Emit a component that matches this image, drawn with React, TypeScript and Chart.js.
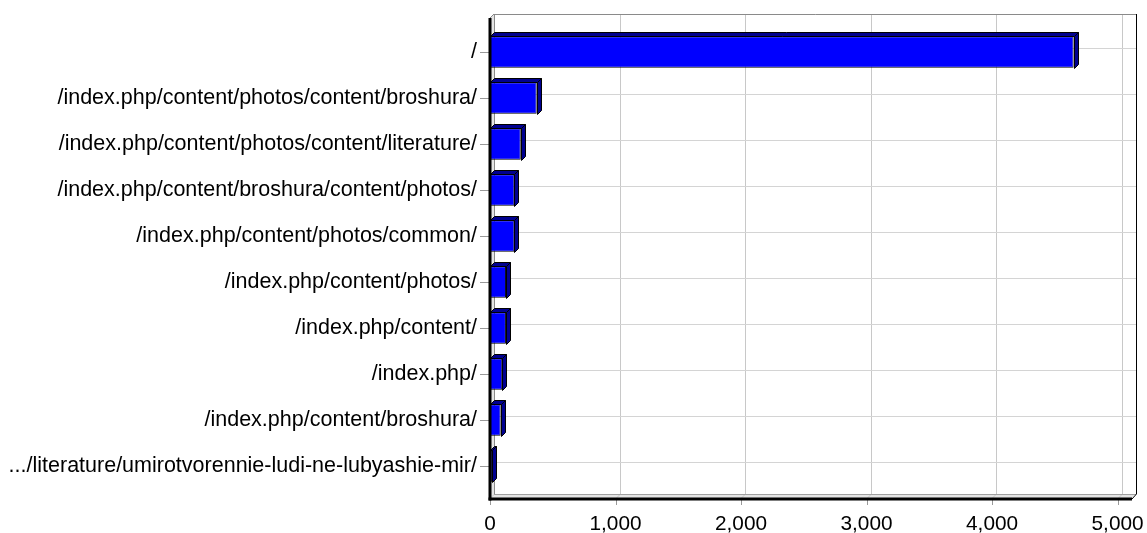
import React, { useEffect, useRef } from 'react';
import { Chart, registerables } from 'chart.js';

Chart.register(...registerables);

const categories = [
  '/',
  '/index.php/content/photos/content/broshura/',
  '/index.php/content/photos/content/literature/',
  '/index.php/content/broshura/content/photos/',
  '/index.php/content/photos/common/',
  '/index.php/content/photos/',
  '/index.php/content/',
  '/index.php/',
  '/index.php/content/broshura/',
  '.../literature/umirotvorennie-ludi-ne-lubyashie-mir/',
];
const hits = [4650, 372, 245, 195, 195, 128, 127, 98, 85, 18];
const xTickValues = [0, 1000, 2000, 3000, 4000, 5000];
const xMax = 5115;

const FAMILY = '"Liberation Sans", Arial, sans-serif';

const threeD = {
  id: 'threeD',
  beforeDatasetsDraw(chart: any) {
    const { ctx, chartArea: a, scales } = chart;
    const x = scales.x;
    const y = scales.y;
    const d = 4;
    const fl = a.left;
    const fr = a.right;
    const ft = a.top - 11;
    const fb = a.bottom + 9;
    const line = (x1: number, y1: number, x2: number, y2: number) => {
      ctx.beginPath();
      ctx.moveTo(x1, y1);
      ctx.lineTo(x2, y2);
      ctx.stroke();
    };
    ctx.save();
    ctx.fillStyle = '#ffffff';
    ctx.fillRect(fl + d, ft - d, fr - fl, fb - ft);
    ctx.fillStyle = '#e4e4e4';
    ctx.beginPath();
    ctx.moveTo(fl, ft);
    ctx.lineTo(fl + d, ft - d);
    ctx.lineTo(fl + d, fb - d);
    ctx.lineTo(fl, fb);
    ctx.closePath();
    ctx.fill();
    ctx.beginPath();
    ctx.moveTo(fl, fb);
    ctx.lineTo(fl + d, fb - d);
    ctx.lineTo(fr + d, fb - d);
    ctx.lineTo(fr, fb);
    ctx.closePath();
    ctx.fill();
    ctx.lineWidth = 1;
    ctx.strokeStyle = '#c8c8c8';
    xTickValues.forEach((v) => {
      const px = Math.round(x.getPixelForValue(v)) + 0.5;
      line(px + d, ft - d, px + d, fb - d);
      line(px + d, fb - d, px, fb);
    });
    ctx.strokeStyle = '#d4d4d4';
    categories.forEach((_, i) => {
      const py = Math.round(y.getPixelForValue(i)) + 0.5;
      line(fl + d, py - d, fr + d, py - d);
      line(fl, py, fl + d, py - d);
    });
    ctx.strokeStyle = '#8a8a8a';
    line(fl + d + 0.5, ft - d + 0.5, fr + d, ft - d + 0.5);
    line(fl + d + 0.5, ft - d, fl + d + 0.5, fb - d);
    line(fl, ft, fl + d, ft - d);
    ctx.strokeStyle = '#a0a0a0';
    line(fl + d, fb - d + 0.5, fr + d, fb - d + 0.5);
    ctx.strokeStyle = '#000000';
    line(fr + d + 0.5, ft - d, fr + d + 0.5, fb - d);
    line(fr + d + 0.5, fb - d, fr, fb + 1);
    ctx.restore();
  },
  afterDatasetsDraw(chart: any) {
    const { ctx, chartArea: a, scales } = chart;
    const x = scales.x;
    const y = scales.y;
    const d = 4;
    const fl = a.left;
    const fr = a.right;
    const ft = a.top - 11;
    const fb = a.bottom + 9;
    ctx.save();
    ctx.lineWidth = 1;
    ctx.strokeStyle = '#000000';
    ctx.fillStyle = '#00008f';
    const meta = chart.getDatasetMeta(0);
    meta.data.forEach((bar: any) => {
      const p = bar.getProps(['x', 'y', 'base', 'height'], true);
      const x0 = Math.round(p.base) + 0.5;
      const x1 = Math.round(p.x) + 0.5;
      const yt = Math.round(p.y - p.height / 2) + 0.5;
      const yb = Math.round(p.y + p.height / 2) + 0.5;
      ctx.beginPath();
      ctx.moveTo(x0, yt);
      ctx.lineTo(x0 + d, yt - d);
      ctx.lineTo(x1 + d, yt - d);
      ctx.lineTo(x1, yt);
      ctx.closePath();
      ctx.fill();
      ctx.stroke();
      ctx.beginPath();
      ctx.moveTo(x1, yt);
      ctx.lineTo(x1 + d, yt - d);
      ctx.lineTo(x1 + d, yb - d);
      ctx.lineTo(x1, yb);
      ctx.closePath();
      ctx.fill();
      ctx.stroke();
    });
    ctx.strokeStyle = '#999999';
    categories.forEach((_, i) => {
      const py = Math.round(y.getPixelForValue(i)) + 0.5;
      ctx.beginPath();
      ctx.moveTo(fl - 10, py);
      ctx.lineTo(fl, py);
      ctx.stroke();
    });
    xTickValues.forEach((v) => {
      const px = Math.round(x.getPixelForValue(v)) + 0.5;
      ctx.beginPath();
      ctx.moveTo(px, fb);
      ctx.lineTo(px, fb + 7);
      ctx.stroke();
    });
    ctx.strokeStyle = '#000000';
    ctx.lineWidth = 3;
    ctx.beginPath();
    ctx.moveTo(fl, ft);
    ctx.lineTo(fl, fb + 2.5);
    ctx.stroke();
    ctx.beginPath();
    ctx.moveTo(fl - 1.5, fb + 1);
    ctx.lineTo(fr, fb + 1);
    ctx.stroke();
    ctx.restore();
  },
};

export default function App() {
  const ref = useRef<HTMLCanvasElement>(null);
  useEffect(() => {
    if (!ref.current) return;
    const chart = new Chart(ref.current, {
      type: 'bar',
      data: {
        labels: categories,
        datasets: [
          {
            data: hits,
            backgroundColor: '#0000ff',
            borderColor: '#000000',
            borderWidth: 1,
            borderSkipped: false,
            categoryPercentage: 1,
            barPercentage: 0.68,
          },
        ],
      },
      options: {
        indexAxis: 'y',
        responsive: false,
        animation: false,
        layout: { padding: { top: 29, right: 15, left: 0, bottom: 0 } },
        plugins: { legend: { display: false }, tooltip: { enabled: false } },
        scales: {
          x: {
            min: 0,
            max: xMax,
            grid: { display: false, drawTicks: false },
            border: { display: false },
            afterBuildTicks: (s: any) => {
              s.ticks = xTickValues.map((v) => ({ value: v }));
            },
            afterFit: (s: any) => {
              s.height = 44;
              s.paddingLeft = 0;
              s.paddingRight = 0;
            },
            ticks: {
              includeBounds: false,
              stepSize: 1000,
              padding: 23,
              color: '#000000',
              font: { family: FAMILY, size: 20.8 },
              maxRotation: 0,
              callback: (v: any) => Number(v).toLocaleString('en-US'),
            },
          },
          y: {
            grid: { display: false, drawTicks: false },
            border: { display: false },
            afterFit: (s: any) => {
              s.width = 490;
              s.paddingTop = 0;
              s.paddingBottom = 0;
            },
            ticks: {
              padding: 13,
              color: '#000000',
              font: { family: FAMILY, size: 21.5 },
              autoSkip: false,
            },
          },
        },
      },
      plugins: [threeD],
    });
    return () => chart.destroy();
  }, []);
  return (
    <canvas
      ref={ref}
      width={1147}
      height={533}
      style={{ position: 'fixed', left: 0, top: 0, display: 'block' }}
    />
  );
}
